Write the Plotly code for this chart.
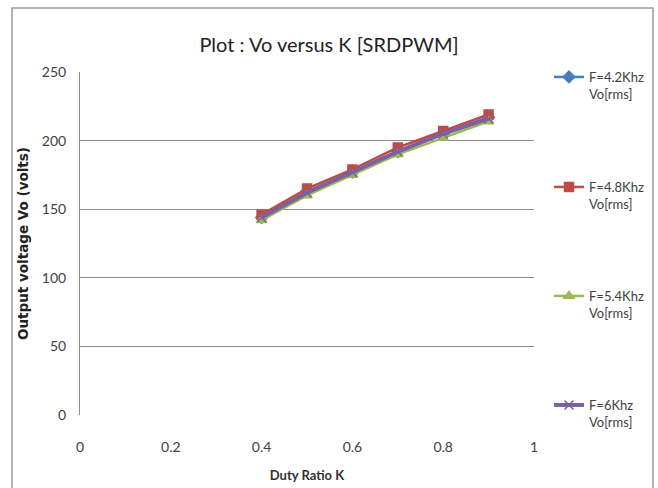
import plotly.graph_objects as go

# Duty ratio K and RMS output voltage for each carrier frequency
duty_ratio = [0.4, 0.5, 0.6, 0.7, 0.8, 0.9]
vo_4_2khz = [144, 163, 177, 192, 205, 217]
vo_4_8khz = [146, 165, 179, 195, 207, 219]
vo_5_4khz = [142, 160, 175, 190, 202, 214]
vo_6khz = [144, 162, 177, 192, 205, 216]

series_names = ["F=4.2Khz<br>Vo[rms]", "F=4.8Khz<br>Vo[rms]",
                "F=5.4Khz<br>Vo[rms]", "F=6Khz<br>Vo[rms]"]
x_ticks = [0, 0.2, 0.4, 0.6, 0.8, 1]
y_ticks = [0, 50, 100, 150, 200, 250]

FONT = "Lato, sans-serif"

W, H = 658, 488
ML, MR, MT, MB = 80, 124, 72, 73
PW, PH = W - ML - MR, H - MT - MB


def px_to_paper_x(px):
    return (px - ML) / PW


def px_to_paper_y(py):
    return (H - MB - py) / PH


styles = [
    dict(color="#4A7EBB", symbol="diamond", size=9, width=2.5),
    dict(color="#BE4B48", symbol="square", size=9, width=2.5),
    dict(color="#98B954", symbol="triangle-up", size=9, width=2.5),
    dict(color="#7D60A0", symbol="x-thin", size=9, width=4),
]
values = [vo_4_2khz, vo_4_8khz, vo_5_4khz, vo_6khz]
legend_ids = ["legend", "legend2", "legend3", "legend4"]
legend_tops = [62, 172, 281, 390]

fig = go.Figure()
for name, vals, st, lid in zip(series_names, values, styles, legend_ids):
    fig.add_trace(go.Scatter(
        x=duty_ratio, y=vals, name=name, mode="lines+markers",
        line=dict(color=st["color"], width=st["width"]),
        marker=dict(symbol=st["symbol"], size=st["size"], color=st["color"],
                    line=dict(color=st["color"], width=1.5)),
        legend=lid,
    ))

# legends placed in page pixels so they never resize the plot area
legend_common = dict(
    xref="container", yref="container",
    x=549 / W, xanchor="left", yanchor="top",
    bgcolor="rgba(0,0,0,0)", valign="top",
    font=dict(family=FONT, size=13, color="#404040"),
    itemwidth=30, visible=True,
)

layout_legends = {}
for lid, top in zip(legend_ids, legend_tops):
    layout_legends[lid] = dict(legend_common, y=1 - top / H)

fig.update_layout(
    width=W, height=H, showlegend=True,
    margin=dict(l=ML, r=MR, t=MT, b=MB, autoexpand=False),
    paper_bgcolor="white", plot_bgcolor="white",
    title=dict(text="Plot : Vo versus K [SRDPWM]", x=0.5, xref="container",
               xanchor="center",
               y=1 - 45 / H, yref="container", yanchor="middle",
               font=dict(family=FONT, size=20, color="#222222")),
    xaxis=dict(range=[0, 1], tickvals=x_ticks, ticktext=[str(t) for t in x_ticks],
               showgrid=False, zeroline=False, showline=False, ticks="",
               ticklabelstandoff=22, automargin=False,
               tickfont=dict(family=FONT, size=14, color="#404040"),
               title=dict(text="<b>Duty Ratio K</b>", standoff=16,
                          font=dict(family=FONT, size=13, color="#333333"))),
    yaxis=dict(range=[0, 250], tickvals=y_ticks, showgrid=True,
               gridcolor="#8C8C8C", gridwidth=1, zeroline=False,
               showline=True, linecolor="#8C8C8C", linewidth=1, ticks="",
               ticklabelstandoff=10, automargin=False,
               tickfont=dict(family=FONT, size=14, color="#404040"),
               title=dict(text="<b>Output voltage Vo (volts)</b>", standoff=10,
                          font=dict(family="DejaVu Sans, sans-serif", size=13.5,
                                    color="#222222"))),
    **layout_legends,
)

# outer chart border
fig.add_shape(type="rect", xref="paper", yref="paper", layer="below",
              x0=px_to_paper_x(12), x1=px_to_paper_x(653),
              y0=px_to_paper_y(495), y1=px_to_paper_y(8),
              line=dict(color="#9A9A9A", width=1.5), fillcolor="rgba(0,0,0,0)")

fig.write_html("out.html")
